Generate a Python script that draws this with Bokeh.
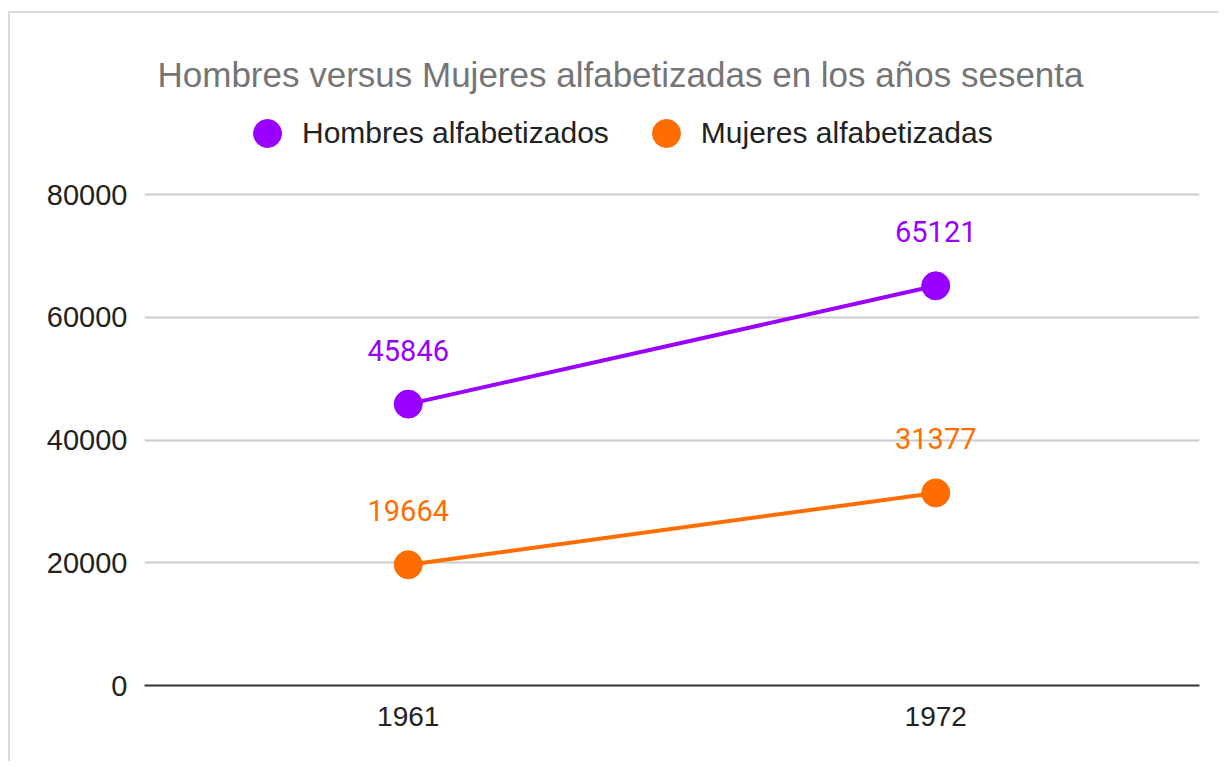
from bokeh.plotting import figure
from bokeh.models import (FactorRange, Range1d, FixedTicker, Legend, LegendItem,
                          Label, ColumnDataSource)
from bokeh.core.properties import value
from bokeh.embed import file_html
from bokeh.resources import INLINE

# ---- data ----
years = ["1961", "1972"]
hombres = [45846, 65121]
mujeres = [19664, 31377]
series_names = ["Hombres alfabetizados", "Mujeres alfabetizadas"]
title_text = "Hombres versus Mujeres alfabetizadas en los años sesenta"
y_ticks = [0, 20000, 40000, 60000, 80000]

PURPLE = "#9900ff"
ORANGE = "#ff6d01"

W, H = 1210, 750
p = figure(width=W, height=H, output_backend="svg", toolbar_location=None,
           x_range=FactorRange(factors=years, range_padding=0),
           y_range=Range1d(0, 109491),
           min_border_left=134, min_border_right=21, min_border_top=0,
           min_border_bottom=78)
p.styles = {"border-left": "2px solid #d9d9d9", "border-top": "2px solid #d9d9d9",
            "margin-left": "8px", "margin-top": "11px"}
p.outline_line_color = None
p.background_fill_color = "white"

# axes
p.yaxis.ticker = FixedTicker(ticks=y_ticks)
p.yaxis.axis_line_color = None
p.yaxis.major_tick_line_color = None
p.yaxis.minor_tick_line_color = None
p.yaxis.major_tick_out = 0
p.yaxis.major_tick_in = 0
p.yaxis.major_label_standoff = 17
p.yaxis.major_label_text_font = "Liberation Sans"
p.yaxis.major_label_text_font_size = "29px"
p.yaxis.major_label_text_color = "#222222"

p.xaxis.axis_line_color = "#333333"
p.xaxis.axis_line_width = 2
p.xaxis.major_tick_line_color = None
p.xaxis.major_tick_out = 0
p.xaxis.major_tick_in = 0
p.xaxis.major_label_standoff = 21
p.xaxis.major_label_text_font = "Liberation Sans"
p.xaxis.major_label_text_font_size = "28px"
p.xaxis.major_label_text_color = "#222222"

p.xgrid.grid_line_color = None
p.ygrid.ticker = FixedTicker(ticks=y_ticks)
p.ygrid.grid_line_color = "#cccccc"
p.ygrid.grid_line_width = 2

# series
src_h = ColumnDataSource(dict(x=years, y=hombres, t=[str(v) for v in hombres]))
src_m = ColumnDataSource(dict(x=years, y=mujeres, t=[str(v) for v in mujeres]))

p.line("x", "y", source=src_h, line_color=PURPLE, line_width=4)
r_h = p.scatter("x", "y", source=src_h, size=28, fill_color=PURPLE, line_color=PURPLE)
p.line("x", "y", source=src_m, line_color=ORANGE, line_width=4)
r_m = p.scatter("x", "y", source=src_m, size=28, fill_color=ORANGE, line_color=ORANGE)

for src, col in ((src_h, PURPLE), (src_m, ORANGE)):
    p.text("x", "y", text="t", source=src, text_color=col,
           text_font=value("Roboto"), text_font_size="29px",
           text_align="center", text_baseline="middle", y_offset=-54)

# legend
legend = Legend(items=[LegendItem(label=series_names[0], renderers=[r_h]),
                       LegendItem(label=series_names[1], renderers=[r_m])],
                orientation="horizontal", location=(88, 517),
                glyph_width=70, glyph_height=70, label_standoff=0, spacing=22,
                padding=0, margin=0, border_line_color=None,
                background_fill_alpha=0,
                label_text_font="Liberation Sans", label_text_font_size="30px",
                label_text_color="#222222")
p.add_layout(legend, "center")

# title
p.add_layout(Label(x=608, y=59, x_units="canvas", y_units="canvas",
                   text=title_text, text_align="center", text_baseline="middle",
                   text_font="Liberation Sans", text_font_size="35px",
                   text_color="#757575"))

open("out.html", "w").write(file_html(p, INLINE))
